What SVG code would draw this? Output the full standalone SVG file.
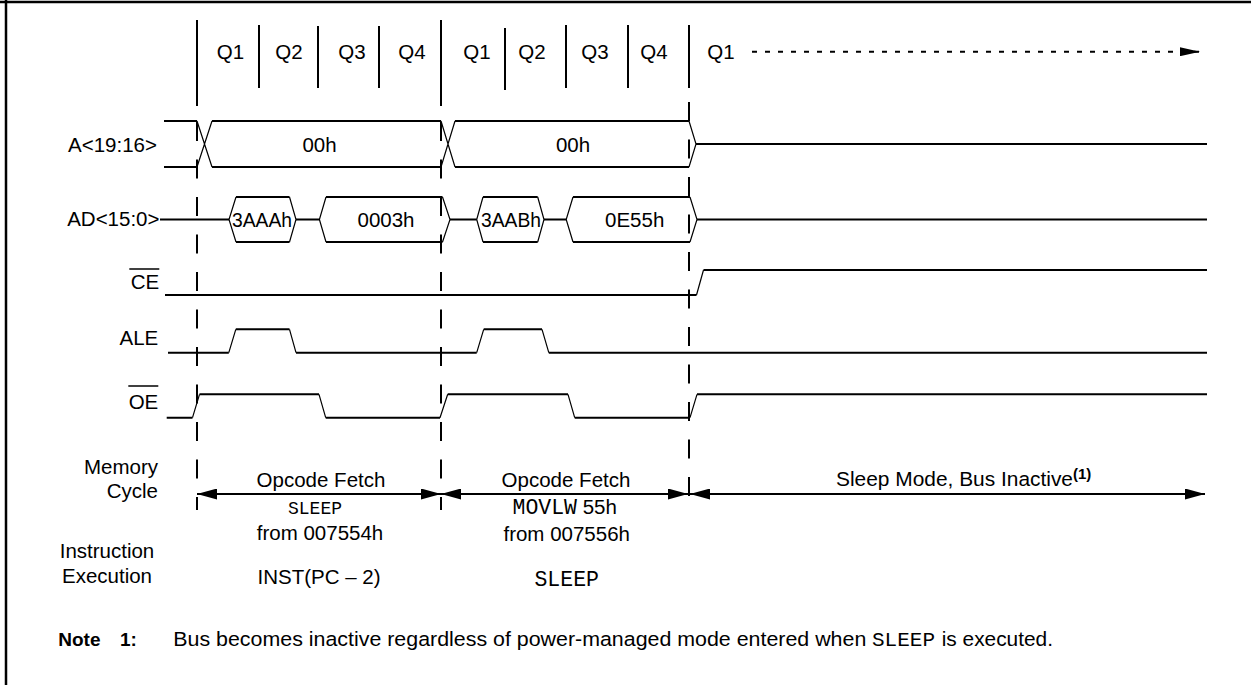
<svg xmlns="http://www.w3.org/2000/svg" width="1251" height="685" viewBox="0 0 1251 685">
<style>
  .sans { font-family: "Liberation Sans", Arial, sans-serif; font-size: 20.5px; fill: #000; }
  .mono { font-family: "Liberation Mono", "Courier New", monospace; fill: #000; }
  .bold { font-weight: bold; }
  .mid { text-anchor: middle; }
  .end { text-anchor: end; }
  .frame { stroke: #000; stroke-width: 2.5; fill: none; }
  .tick { stroke: #000; stroke-width: 2; fill: none; }
  .dash { stroke: #000; stroke-width: 2; fill: none; stroke-dasharray: 19 18.5; }
  .sig { stroke: #000; stroke-width: 2; fill: none; }
  .edge { stroke: #000; stroke-width: 1.2; fill: none; }
  .bar { stroke: #000; stroke-width: 1.5; fill: none; }
  .arr { stroke: #000; stroke-width: 2; fill: none; }
  .dots { stroke: #000; stroke-width: 2; fill: none; stroke-dasharray: 5 8; }
</style>
<defs>
  <marker id="ah" markerUnits="userSpaceOnUse" markerWidth="20" markerHeight="11" refX="20" refY="5.5" orient="auto-start-reverse" viewBox="0 0 20 11">
    <path d="M0,0 L20,5.5 L0,11 z" fill="#000"/>
  </marker>
  <marker id="ahs" markerUnits="userSpaceOnUse" markerWidth="20" markerHeight="9" refX="20" refY="4.5" orient="auto" viewBox="0 0 20 9">
    <path d="M0,0 L20,4.5 L0,9 z" fill="#000"/>
  </marker>
</defs>

<g id="frame">
  <line class="frame" x1="0" y1="2" x2="1251" y2="2"/>
  <line class="frame" x1="6" y1="0" x2="6" y2="685"/>
</g>

<g id="header">
  <path class="tick" d="M197,20 V106 M259,25 V88 M318,26 V88 M379,26 V88 M441,20 V106 M505,28 V90 M566,25 V88 M628,25 V88 M689,25 V88"/>
  <text class="sans mid" x="230.5" y="59">Q1</text>
  <text class="sans mid" x="289" y="59">Q2</text>
  <text class="sans mid" x="352" y="59">Q3</text>
  <text class="sans mid" x="412" y="59">Q4</text>
  <text class="sans mid" x="477" y="59">Q1</text>
  <text class="sans mid" x="532" y="59">Q2</text>
  <text class="sans mid" x="595" y="59">Q3</text>
  <text class="sans mid" x="654" y="59">Q4</text>
  <text class="sans mid" x="721" y="59">Q1</text>
  <line class="dots" x1="752" y1="51.7" x2="1200" y2="51.7" marker-end="url(#ahs)"/>
</g>

<g id="cycle-boundaries">
  <line class="dash" x1="197" y1="122" x2="197" y2="510"/>
  <line class="dash" x1="441" y1="122" x2="441" y2="510"/>
  <line class="dash" x1="689" y1="102" x2="689" y2="510"/>
</g>

<g id="labels">
  <text class="sans end" x="157" y="151.5">A&lt;19:16&gt;</text>
  <text class="sans end" x="159.5" y="226">AD&lt;15:0&gt;</text>
  <text class="sans end" x="159.3" y="288.5">CE</text>
  <line class="bar" x1="129.3" y1="269" x2="159.3" y2="269"/>
  <text class="sans end" x="158.3" y="345">ALE</text>
  <text class="sans end" x="158.3" y="408.5">OE</text>
  <line class="bar" x1="128.3" y1="386" x2="158.3" y2="386"/>
  <text class="sans end" x="158" y="474">Memory</text>
  <text class="sans end" x="158" y="498.3">Cycle</text>
  <text class="sans mid" x="107" y="558">Instruction</text>
  <text class="sans mid" x="107" y="582.7">Execution</text>
</g>

<g id="sig-A">
  <path class="sig" d="M164,121 H197 M164,167 H197 M212,121 H441 M212,167 H441 M455,121 H689 M455,167 H689 M696,144 H1207"/>
  <path class="edge" d="M197,121 L212,167 M197,167 L212,121 M441,121 L455,167 M441,167 L455,121 M689,121 L696,144 L689,167"/>
  <text class="sans mid" x="319.5" y="151.5">00h</text>
  <text class="sans mid" x="573" y="151.5">00h</text>
</g>

<g id="sig-AD">
  <path class="sig" d="M160,219.5 H229 M236,197 H289.5 M236,242 H289.5 M296,219.5 H319.4 M326,197 H442.5 M326,242 H442.5 M450,219.5 H476.7 M483,197 H537.7 M483,242 H537.7 M544,219.5 H566.2 M573,197 H690 M573,242 H690 M697,219.5 H1207"/>
  <path class="edge" d="M236,197 L229,219.5 L236,242 M289.5,197 L296,219.5 L289.5,242 M326,197 L319.4,219.5 L326,242 M442.5,197 L450,219.5 L442.5,242 M483,197 L476.7,219.5 L483,242 M537.7,197 L544,219.5 L537.7,242 M573,197 L566.2,219.5 L573,242 M690,197 L697,219.5 L690,242"/>
  <text class="sans mid" x="262" y="226.5" style="font-size:19.3px">3AAAh</text>
  <text class="sans mid" x="386" y="226.8">0003h</text>
  <text class="sans mid" x="511" y="226.5" style="font-size:19.3px">3AABh</text>
  <text class="sans mid" x="634.7" y="226.8">0E55h</text>
</g>

<g id="sig-CE">
  <path class="sig" d="M165,295 H696.5 M703.5,270 H1207"/>
  <path class="edge" d="M696.5,295 L703.5,270"/>
</g>

<g id="sig-ALE">
  <path class="sig" d="M168,352.7 H228.8 M235.8,329.3 H289.5 M296,352.7 H476.7 M483.7,329.3 H542 M548.8,352.7 H1207"/>
  <path class="edge" d="M228.8,352.7 L235.8,329.3 M289.5,329.3 L296,352.7 M476.7,352.7 L483.7,329.3 M542,329.3 L548.8,352.7"/>
</g>

<g id="sig-OE">
  <path class="sig" d="M166.7,417.7 H192.5 M199.5,394.3 H319 M325.7,417.7 H440 M447.7,394.3 H568 M574.7,417.7 H690 M697,394.3 H1207"/>
  <path class="edge" d="M192.5,417.7 L199.5,394.3 M319,394.3 L325.7,417.7 M440,417.7 L447.7,394.3 M568,394.3 L574.7,417.7 M690,417.7 L697,394.3"/>
</g>

<g id="connectors">
  <line class="arr" x1="197" y1="494" x2="441" y2="494" marker-start="url(#ah)" marker-end="url(#ah)"/>
  <line class="arr" x1="441" y1="494" x2="688" y2="494" marker-start="url(#ah)" marker-end="url(#ah)"/>
  <line class="arr" x1="690" y1="494" x2="1205" y2="494" marker-start="url(#ah)" marker-end="url(#ah)"/>
</g>

<g id="cycle1">
  <text class="sans mid" x="321" y="486.5">Opcode Fetch</text>
  <text class="mono mid" x="315" y="514" style="font-size:18px">SLEEP</text>
  <text class="sans mid" x="320" y="540">from 007554h</text>
  <text class="sans mid" x="319" y="584">INST(PC – 2)</text>
</g>

<g id="cycle2">
  <text class="sans mid" x="566" y="486.5">Opcode Fetch</text>
  <text class="sans" x="512.5" y="514"><tspan class="mono" style="font-size:21.5px">MOVLW</tspan> 55h</text>
  <text class="sans mid" x="566.7" y="541">from 007556h</text>
  <text class="mono mid" x="566.7" y="585.7" style="font-size:21.5px">SLEEP</text>
</g>

<g id="cycle3">
  <text class="sans" x="836" y="486" textLength="237" lengthAdjust="spacingAndGlyphs">Sleep Mode, Bus Inactive</text>
  <text class="sans bold" x="1073" y="479" style="font-size:15px">(1)</text>
</g>

<g id="note">
  <text class="sans bold" x="58.3" y="645.5" style="font-size:19px">Note</text>
  <text class="sans bold" x="120" y="645.5" style="font-size:19px">1:</text>
  <text class="sans" x="173.3" y="645.5" textLength="693" lengthAdjust="spacingAndGlyphs">Bus becomes inactive regardless of power-managed mode entered when</text>
  <text class="mono" x="872" y="645.5" style="font-size:21px">SLEEP</text>
  <text class="sans" x="941.7" y="645.5" textLength="111.3" lengthAdjust="spacingAndGlyphs">is executed.</text>
</g>
</svg>
